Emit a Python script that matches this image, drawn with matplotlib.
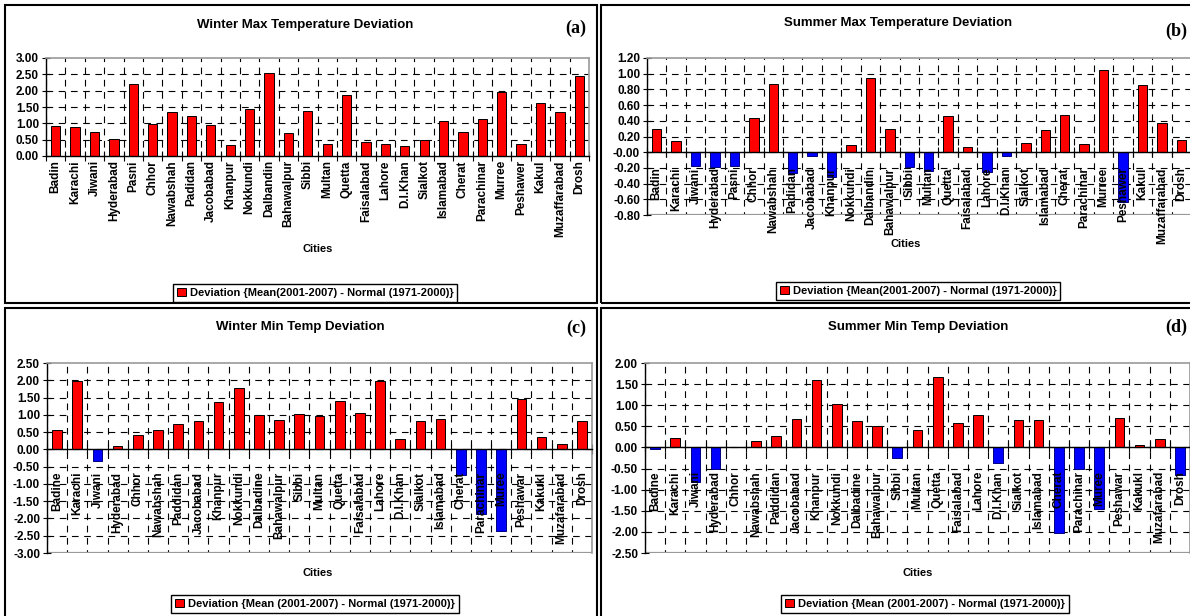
import matplotlib
matplotlib.use("Agg")
import matplotlib.pyplot as plt
from matplotlib.patches import Rectangle, Patch
import numpy as np

plt.rcParams['font.family'] = ['Liberation Sans', 'DejaVu Sans']
plt.rcParams['font.weight'] = 'bold'

# Station names (upper panels and lower panels use slightly different spellings)
cities_max = ["Badin", "Karachi", "Jiwani", "Hyderabad", "Pasni", "Chhor", "Nawabshah",
              "Padidan", "Jacobabad", "Khanpur", "Nokkundi", "Dalbandin", "Bahawalpur",
              "Sibbi", "Multan", "Quetta", "Faisalabad", "Lahore", "D.I.Khan", "Sialkot",
              "Islamabad", "Cherat", "Parachinar", "Murree", "Peshawer", "Kakul",
              "Muzaffarabad", "Drosh"]
cities_min = ["Badine", "Karachi", "Jiwani", "Hyderabad", "Chhor", "Nawabshah", "Paddidan",
              "Jacobabad", "Khanpur", "Nokkundi", "Dalbadine", "Bahawalpur", "Sibbi",
              "Multan", "Quetta", "Faisalabad", "Lahore", "D.I.Khan", "Sialkot",
              "Islamabad", "Cherat", "Parachinar", "Muree", "Peshawar", "Kakukl",
              "Muzafarabad", "Drosh"]

# Deviation {Mean(2001-2007) - Normal(1971-2000)}, deg C
winter_max = [0.91, 0.89, 0.72, 0.51, 2.21, 0.98, 1.34, 1.22, 0.94, 0.34, 1.44, 2.55, 0.70,
              1.39, 0.36, 1.87, 0.44, 0.36, 0.30, 0.48, 1.07, 0.73, 1.14, 1.95, 0.36, 1.63,
              1.34, 2.45]
summer_max = [0.30, 0.14, -0.17, -0.19, -0.17, 0.44, 0.87, -0.26, -0.05, -0.31, 0.09, 0.95,
              0.30, -0.19, -0.24, 0.46, 0.07, -0.25, -0.05, 0.12, 0.28, 0.48, 0.11, 1.05,
              -0.64, 0.85, 0.37, 0.15]
winter_min = [0.56, 1.99, -0.34, 0.09, 0.41, 0.56, 0.74, 0.81, 1.37, 1.79, 0.99, 0.84, 1.02,
              0.97, 1.39, 1.05, 1.98, 0.29, 0.81, 0.89, -0.74, -1.88, -2.35, 1.45, 0.36,
              0.16, 0.81]
summer_min = [-0.03, 0.23, -0.83, -0.50, 0.02, 0.16, 0.26, 0.68, 1.60, 1.04, 0.62, 0.51,
              -0.26, 0.42, 1.66, 0.58, 0.76, -0.37, 0.65, 0.65, -2.03, -0.52, -1.45, 0.70,
              0.05, 0.20, -0.65]

W, H = 1190, 616
fig = plt.figure(figsize=(W / 100, H / 100), dpi=100)


def fx(x):
    return x / W


def fy(y):
    return 1 - y / H


def panel(box, plot, cities, vals, ylim, ystep, title, letter, legtext,
          title_x, title_y, cities_x, cities_y, leg_x, leg_y, label_pad):
    # outer frame of the chart
    l, t, r, b = box
    fig.patches.append(Rectangle((fx(l), fy(b)), fx(r - l), (b - t) / H,
                                 transform=fig.transFigure, fill=False,
                                 edgecolor='black', linewidth=1.5))
    pl, pt, pr, pb = plot
    ax = fig.add_axes([fx(pl), fy(pb), fx(pr - pl), (pb - pt) / H])
    # category axis sits on the zero line
    ax.spines['bottom'].set_position(('data', 0))

    n = len(vals)
    x = np.arange(n)
    vals = np.array(vals)
    colors = np.where(vals >= 0, '#FF0000', '#0000FF')
    edges = np.where(vals >= 0, 'black', '#000080')
    ax.bar(x, vals, width=0.48, color=colors, edgecolor=edges, linewidth=0.7, zorder=1)

    ax.set_xlim(-0.5, n - 0.5)
    ax.set_ylim(*ylim)
    yt = np.arange(ylim[0], ylim[1] + ystep / 2, ystep)
    ax.set_yticks(yt)
    ax.set_yticklabels(['%.2f' % v for v in yt], fontsize=8.5, fontweight='bold')

    # dashed grid behind the bars
    for v in yt[1:-1]:
        ax.axhline(v, color='black', lw=0.8, ls=(0, (6, 5)), zorder=0.3)
    for v in np.arange(n + 1) - 0.5:
        ax.axvline(v, color='black', lw=0.8, ls=(3, (6, 5)), zorder=0.3)

    ax.set_xticks(x)
    ax.set_xticklabels(cities, rotation=90, fontsize=8.5, fontweight='bold')
    ax.set_xticks(np.arange(n + 1) - 0.5, minor=True)
    ax.tick_params(axis='x', which='major', length=0, pad=label_pad)
    ax.tick_params(axis='x', which='minor', length=7, direction='inout', width=0.8)
    ax.tick_params(axis='y', length=6, direction='inout', width=0.8, pad=2)

    ax.spines['bottom'].set_linewidth(1.0)
    ax.spines['left'].set_linewidth(1.0)
    for s in ('top', 'right'):
        ax.spines[s].set_color('#999999')
        ax.spines[s].set_linewidth(1.2)
    if ylim[0] < 0:
        ax.axhline(ylim[0], color='#999999', lw=1.6, zorder=0.4)

    fig.text(fx(title_x), fy(title_y), title, ha='center', va='center',
             fontsize=9.5, fontweight='bold')
    fig.text(fx(letter[1]), fy(letter[2]), letter[0], ha='center', va='center',
             fontsize=13, fontweight='bold', family='Liberation Serif')
    fig.text(fx(cities_x), fy(cities_y), 'Cities',
             ha='center', va='center', fontsize=8, fontweight='bold')
    handle = Patch(facecolor='#FF0000', edgecolor='black', linewidth=0.7)
    fig.legend([handle], [legtext], loc='center', bbox_to_anchor=(fx(leg_x), fy(leg_y)),
               bbox_transform=fig.transFigure, frameon=True, fancybox=False,
               edgecolor='black', framealpha=1, borderpad=0.35, handlelength=0.8,
               handleheight=0.8, handletextpad=0.35,
               prop={'size': 8, 'weight': 'bold'})
    return ax


panel((5, 5, 597, 303), (46, 58, 589, 156), cities_max, winter_max, (0, 3.0), 0.5,
      'Winter Max Temperature Deviation', ('(a)', 576, 28),
      'Deviation {Mean(2001-2007) - Normal (1971-2000)}',
      305, 25, 318, 249, 315, 293, 3)
panel((601, 5, 1193, 303), (647, 58, 1191, 215), cities_max, summer_max, (-0.8, 1.2), 0.2,
      'Summer Max Temperature Deviation', ('(b)', 1176, 31),
      'Deviation {Mean(2001-2007) - Normal (1971-2000)}',
      898, 23, 906, 244, 918, 291, 11)
panel((5, 308, 597, 619), (47, 363, 592, 553), cities_min, winter_min, (-3.0, 2.5), 0.5,
      'Winter Min Temp Deviation', ('(c)', 576, 328),
      'Deviation {Mean (2001-2007) - Normal (1971-2000)}',
      300, 327, 318, 573, 315, 604, 16)
panel((601, 308, 1193, 619), (645, 363, 1190, 553), cities_min, summer_min, (-2.5, 2.0), 0.5,
      'Summer Min Temp Deviation', ('(d)', 1176, 327),
      'Deviation {Mean (2001-2007) - Normal (1971-2000)}',
      918, 327, 918, 573, 925, 604, 17)

fig.savefig('out.png', dpi=100)
